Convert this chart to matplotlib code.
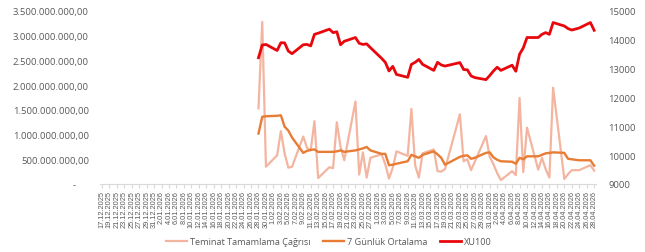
import matplotlib
matplotlib.use("Agg")
import matplotlib.pyplot as plt
from matplotlib.ticker import FuncFormatter, MultipleLocator
from matplotlib import font_manager
import datetime as dt

# ---- data ----
dates = ["28.01.2026","29.01.2026","30.01.2026","02.02.2026","03.02.2026","04.02.2026","05.02.2026","06.02.2026",
         "09.02.2026","10.02.2026","11.02.2026","12.02.2026","13.02.2026","16.02.2026","17.02.2026","18.02.2026",
         "19.02.2026","20.02.2026","23.02.2026","24.02.2026","25.02.2026","26.02.2026","27.02.2026","02.03.2026",
         "03.03.2026","04.03.2026","05.03.2026","06.03.2026","09.03.2026","10.03.2026","11.03.2026","12.03.2026",
         "13.03.2026","16.03.2026","17.03.2026","18.03.2026","19.03.2026","23.03.2026","24.03.2026","25.03.2026",
         "26.03.2026","27.03.2026","30.03.2026","31.03.2026","01.04.2026","02.04.2026","03.04.2026","06.04.2026",
         "07.04.2026","08.04.2026","09.04.2026","10.04.2026","13.04.2026","14.04.2026","15.04.2026","16.04.2026",
         "17.04.2026","20.04.2026","21.04.2026","22.04.2026","24.04.2026","27.04.2026","28.04.2026"]

teminat = [1.53,3.28,0.35,0.58,1.07,0.62,0.33,0.35,
           0.96,0.73,0.68,1.27,0.12,0.34,0.32,1.25,
           0.75,0.48,1.67,0.19,0.64,0.13,0.53,0.60,
           0.40,0.11,0.33,0.66,0.57,1.52,0.38,0.13,
           0.62,0.70,0.26,0.25,0.30,1.41,0.46,0.50,
           0.28,0.45,0.97,0.55,0.40,0.22,0.08,0.26,
           0.18,1.74,0.24,1.14,0.29,0.53,0.30,0.13,
           1.95,0.10,0.20,0.28,0.28,0.38,0.27]

ortalama = [1.02,1.36,1.37,1.38,1.39,1.16,1.08,0.94,
            0.63,0.67,0.69,0.70,0.65,0.65,0.65,0.66,
            0.68,0.65,0.68,0.70,0.72,0.75,0.68,0.61,
            0.61,0.38,0.39,0.41,0.46,0.59,0.56,0.53,
            0.59,0.66,0.60,0.53,0.39,0.55,0.57,0.58,
            0.51,0.53,0.63,0.64,0.54,0.49,0.46,0.45,
            0.41,0.53,0.50,0.56,0.56,0.59,0.62,0.63,
            0.64,0.63,0.51,0.50,0.48,0.48,0.37]

xu100 = [13380,13820,13840,13630,13900,13895,13610,13520,
         13830,13840,13790,14190,14230,14370,14250,14280,
         13830,13950,14080,13880,13840,13860,13730,13360,
         13220,12920,13080,12800,12700,13150,13220,13320,
         13150,12940,13220,13130,13090,13210,12970,12960,
         12750,12690,12620,12760,12920,13050,12940,13120,
         12910,13500,13720,14080,14080,14190,14250,14190,
         14600,14480,14390,14340,14410,14600,14330]

axis_start = "17.12.2025"
axis_end = "28.04.2026"
series_names = ["Teminat Tamamlama Çağrısı", "7 Günlük Ortalama", "XU100"]

# ---- plotting ----
plt.rcParams['font.family'] = ['Open Sans', 'DejaVu Sans']
txtc = "#595959"

names = {f.name for f in font_manager.fontManager.ttflist}
narrow = 'Liberation Sans Narrow' if 'Liberation Sans Narrow' in names else 'Liberation Sans'

def p(s):
    return dt.datetime.strptime(s, "%d.%m.%Y")

x = [p(d) for d in dates]
t_vals = [v * 1e9 for v in teminat]
o_vals = [v * 1e9 for v in ortalama]

fig = plt.figure(figsize=(6.45, 2.53), dpi=100)
ax = fig.add_axes([100/645, 1-185/253, 496/645, 173/253])
ax2 = ax.twinx()

l1, = ax.plot(x, t_vals, color="#F4B5A0", lw=1.6, solid_joinstyle="round")
l2, = ax.plot(x, o_vals, color="#E87C34", lw=1.7, solid_joinstyle="round")
l3, = ax2.plot(x, xu100, color="#E8070C", lw=2.0, solid_joinstyle="round")

start, end = p(axis_start), p(axis_end)
ax.set_xlim(start - dt.timedelta(hours=12), end + dt.timedelta(hours=12))
ax.set_ylim(0, 3.5e9)
ax2.set_ylim(9000, 15000)

ax.yaxis.set_major_locator(MultipleLocator(0.5e9))
ax2.yaxis.set_major_locator(MultipleLocator(1000))

def lfmt(v, pos):
    if abs(v) < 1:
        return "-     "
    s = f"{int(round(v)):,}".replace(",", ".")
    return s + ",00"
ax.yaxis.set_major_formatter(FuncFormatter(lfmt))
ax2.yaxis.set_major_formatter(FuncFormatter(lambda v, pos: f"{int(v)}"))

ticks = []
d = start
while d <= end:
    ticks.append(d)
    d += dt.timedelta(days=2)
ax.set_xticks(ticks)
ax.set_xticklabels([f"{t.day}.{t.month:02d}.{t.year}" for t in ticks], rotation=90,
                   fontsize=5.3, color=txtc, family=[narrow, 'DejaVu Sans'])

for a in (ax, ax2):
    for s in a.spines.values():
        s.set_visible(False)
ax.spines['bottom'].set_visible(True)
ax.spines['bottom'].set_color("#d9d9d9")
ax.spines['bottom'].set_linewidth(0.8)
ax.tick_params(axis='x', length=3, color="#d9d9d9", pad=1.5)
ax.tick_params(axis='y', length=0, labelsize=6.8, labelcolor=txtc, pad=8)
ax2.tick_params(axis='y', length=0, labelsize=6.8, labelcolor=txtc, pad=9)

fig.legend([l1, l2, l3], series_names, loc="center", bbox_to_anchor=(0.51, 1-243/253),
           ncol=3, frameon=False, fontsize=6.6, handlelength=2.3, columnspacing=1.4,
           handletextpad=0.3, labelcolor=txtc)

fig.savefig("out.png", dpi=100)
